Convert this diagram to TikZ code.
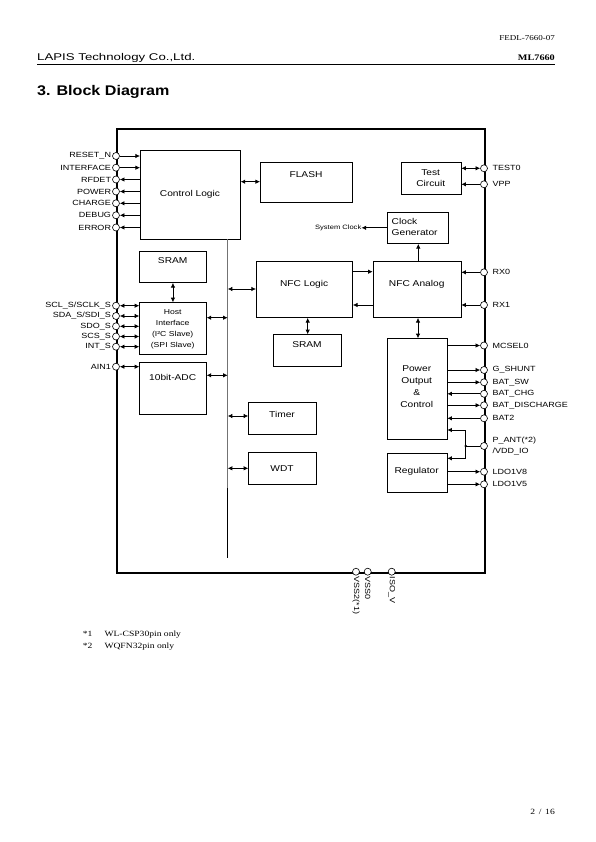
\documentclass[tikz,border=0pt]{standalone}
\usepackage{fontspec}
\usetikzlibrary{arrows.meta}
\newfontfamily\sfx[FakeStretch=1.2]{Liberation Sans}
\newfontfamily\rmx[FakeStretch=1.2]{Liberation Serif}
\newfontfamily\logofam[FakeStretch=1.35]{Liberation Sans}
\newfontfamily\headfam[FakeStretch=1.15]{Liberation Sans}
\newcommand\pinfont{\sfx\fontsize{7.5}{9}\selectfont}
\newcommand\blkfont{\sfx\fontsize{8.5}{11.6}\selectfont}
\newcommand\hostfont{\sfx\fontsize{7.2}{10.9}\selectfont}
\newcommand\tinyfont{\sfx\fontsize{6.3}{8}\selectfont}
\newcommand\mkblock[5]{\node[box, minimum width={#4-#2}, minimum height={#5-#3}] (#1) at (#2,#3) {};}
\tikzset{
  box/.style={draw, line width=0.6pt, anchor=north west, inner sep=0pt},
  pinc/.style={circle, draw, fill=white, line width=0.6pt, minimum size=7pt, inner sep=0pt},
  conn/.style={line width=0.7pt},
  arr/.style={conn, -{Latex[length=4.6pt,width=4.4pt]}},
  dbl/.style={conn, {Latex[length=4.6pt,width=4.4pt]}-{Latex[length=4.6pt,width=4.4pt]}},
  pinL/.style={font=\pinfont, inner sep=1pt, anchor=east},
  pinR/.style={font=\pinfont, inner sep=1pt, anchor=west, xshift=3.5pt},
  pinB/.style={font=\pinfont, inner sep=1pt, anchor=west, rotate=-90},
  btext/.style={font=\blkfont, inner sep=0pt, align=center},
}
\begin{document}
\begin{tikzpicture}[x=1pt, y=-1pt]
\useasboundingbox (0,0) rectangle (595,842);
\fill[white] (0,0) rectangle (595,842);

% ---------- page header ----------
\node[anchor=base east, inner sep=0pt, font=\rmx\fontsize{7.5}{9}\selectfont] (docno) at (555,41) {FEDL-7660-07};
\node[anchor=base west, inner sep=0pt, font=\logofam\fontsize{9.8}{11}\selectfont] (company) at (37,61) {LAPIS Technology Co.,Ltd.};
\node[anchor=base east, inner sep=0pt, font=\rmx\bfseries\fontsize{8.5}{10}\selectfont] (partno) at (555,61) {ML7660};
\draw[line width=0.8pt] (37,64.5) -- (555,64.5);
\node[anchor=base west, inner sep=0pt, font=\headfam\bfseries\fontsize{14}{16}\selectfont] (title) at (37,95.5) {3. Block Diagram};

% ---------- chip outline ----------
\node[draw, line width=1.8pt, minimum width=368, minimum height=443.7, anchor=north west, inner sep=0pt] (chip) at (116,128) {};

% ---------- blocks ----------
\mkblock{ctrl}{140}{150}{240}{239}
\mkblock{flash}{260}{162}{352}{202}
\mkblock{test}{400.7}{161.7}{460.7}{194}
\mkblock{clk}{387.3}{212.3}{447.7}{243.3}
\mkblock{sramA}{139.3}{250.7}{206}{282.3}
\mkblock{host}{139.3}{302.3}{206}{354}
\mkblock{adc}{139.3}{362.3}{206}{414}
\mkblock{nfcl}{256}{261}{352.3}{317.3}
\mkblock{nfca}{372.7}{261}{460.7}{317.3}
\mkblock{sramB}{273.3}{334.3}{340.7}{366}
\mkblock{power}{386.7}{338.3}{446.7}{439}
\mkblock{reg}{386.7}{452.7}{446.7}{492.3}
\mkblock{timer}{248.3}{402.3}{315.7}{434.3}
\mkblock{wdt}{248.3}{452.3}{315.7}{484.3}

% ---------- block texts ----------
\node[btext] (t-ctrl) at (190,194) {Control Logic};
\node[btext] (t-flash) at (306,175) {FLASH};
\node[btext] (t-test) at (430.7,178.3) {Test\\Circuit};
\node[btext, align=left, anchor=west] (t-clk) at (391.5,227) {Clock\\Generator};
\node[btext] (t-sramA) at (172.7,260.7) {SRAM};
\node[btext, font=\hostfont] (t-host) at (172.7,329) {Host\\Interface\\(I²C Slave)\\(SPI Slave)};
\node[btext] (t-adc) at (172.7,377) {10bit-ADC};
\node[btext] (t-nfcl) at (304.2,284) {NFC Logic};
\node[btext] (t-nfca) at (416.7,284) {NFC Analog};
\node[btext] (t-sramB) at (307,345) {SRAM};
\node[btext, font=\sfx\fontsize{8.5}{12}\selectfont] (t-power) at (416.7,386.5) {Power\\Output\\\&\\Control};
\node[btext] (t-reg) at (416.7,471.7) {Regulator};
\node[btext] (t-timer) at (282,414.3) {Timer};
\node[btext] (t-wdt) at (282,468.3) {WDT};
\node[font=\tinyfont, inner sep=0pt, anchor=east] (sysclk) at (361.5,227.8) {System Clock};

% ---------- internal bus ----------
\coordinate (bus-top) at (227.7,239);
\coordinate (bus-mid) at (227.7,488);
\coordinate (bus-bot) at (227.7,558);
\draw[line width=1pt, black!55] (bus-top) -- (bus-mid);
\draw[line width=0.5pt] (bus-mid) -- (bus-bot);
\coordinate (tap-nfcl) at (227.7,289);
\coordinate (tap-host) at (227.7,317.7);
\coordinate (tap-adc) at (227.7,375.3);
\coordinate (tap-timer) at (227.7,416);
\coordinate (tap-wdt) at (227.7,468.3);
\draw[dbl] (tap-nfcl) -- (nfcl.west |- tap-nfcl);
\draw[dbl] (host.east |- tap-host) -- (tap-host);
\draw[dbl] (adc.east |- tap-adc) -- (tap-adc);
\draw[dbl] (tap-timer) -- (timer.west |- tap-timer);
\draw[dbl] (tap-wdt) -- (wdt.west |- tap-wdt);

% ---------- block-to-block connectors ----------
\coordinate (cf) at (250,181.7);
\draw[dbl] (ctrl.east |- cf) -- (flash.west |- cf);
\draw[dbl] (sramA.south) -- (host.north);
\coordinate (nn1) at (362,271.7);
\coordinate (nn2) at (362,305);
\draw[arr] (nfcl.east |- nn1) -- (nfca.west |- nn1);
\draw[arr] (nfca.west |- nn2) -- (nfcl.east |- nn2);
\coordinate (ns) at (307.7,325);
\draw[dbl] (nfcl.south -| ns) -- (sramB.north -| ns);
\coordinate (np) at (418,327);
\draw[dbl] (nfca.south -| np) -- (power.north -| np);
\coordinate (nc) at (418.3,252);
\draw[arr] (nfca.north -| nc) -- (clk.south -| nc);
\draw[arr] (clk.west |- sysclk) -- (sysclk.east);

% ---------- left pins (Control Logic) ----------
\node[pinc] (p-reset) at (116,156) {};
\node[pinc] (p-iface) at (116,167.7) {};
\node[pinc] (p-rfdet) at (116,179.5) {};
\node[pinc] (p-power) at (116,191.5) {};
\node[pinc] (p-charge) at (116,203.3) {};
\node[pinc] (p-debug) at (116,215.3) {};
\node[pinc] (p-error) at (116,227.5) {};
\node[pinL] (l-reset) at (p-reset.west) {RESET\_N};
\node[pinL] (l-iface) at (p-iface.west) {INTERFACE};
\node[pinL] (l-rfdet) at (p-rfdet.west) {RFDET};
\node[pinL] (l-power) at (p-power.west) {POWER};
\node[pinL] (l-charge) at (p-charge.west) {CHARGE};
\node[pinL] (l-debug) at (p-debug.west) {DEBUG};
\node[pinL] (l-error) at (p-error.west) {ERROR};
\draw[arr] (p-reset) -- (p-reset -| ctrl.west);
\draw[arr] (p-iface) -- (p-iface -| ctrl.west);
\draw[arr] (p-rfdet -| ctrl.west) -- (p-rfdet);
\draw[arr] (p-power -| ctrl.west) -- (p-power);
\draw[arr] (p-charge -| ctrl.west) -- (p-charge);
\draw[arr] (p-debug -| ctrl.west) -- (p-debug);
\draw[arr] (p-error -| ctrl.west) -- (p-error);

% ---------- left pins (Host / ADC) ----------
\node[pinc] (p-scl) at (116,305.7) {};
\node[pinc] (p-sda) at (116,316) {};
\node[pinc] (p-sdo) at (116,326.3) {};
\node[pinc] (p-scs) at (116,336.5) {};
\node[pinc] (p-int) at (116,346.7) {};
\node[pinc] (p-ain) at (116,366.7) {};
\node[pinL] (l-scl) at (p-scl.west) {SCL\_S/SCLK\_S};
\node[pinL] (l-sda) at (p-sda.west) {SDA\_S/SDI\_S};
\node[pinL] (l-sdo) at (p-sdo.west) {SDO\_S};
\node[pinL] (l-scs) at (p-scs.west) {SCS\_S};
\node[pinL] (l-int) at (p-int.west) {INT\_S};
\node[pinL] (l-ain) at (p-ain.west) {AIN1};
\draw[dbl] (p-scl) -- (p-scl -| host.west);
\draw[dbl] (p-sda) -- (p-sda -| host.west);
\draw[dbl] (p-sdo) -- (p-sdo -| host.west);
\draw[dbl] (p-scs) -- (p-scs -| host.west);
\draw[dbl] (p-int) -- (p-int -| host.west);
\draw[dbl] (p-ain) -- (p-ain -| adc.west);

% ---------- right pins ----------
\node[pinc] (p-test0) at (484,168.3) {};
\node[pinc] (p-vpp) at (484,184.3) {};
\node[pinc] (p-rx0) at (484,272.3) {};
\node[pinc] (p-rx1) at (484,305) {};
\node[pinc] (p-mcsel) at (484,345.5) {};
\node[pinc] (p-gshunt) at (484,370) {};
\node[pinc] (p-batsw) at (484,382.3) {};
\node[pinc] (p-batchg) at (484,393.8) {};
\node[pinc] (p-batdis) at (484,405.3) {};
\node[pinc] (p-bat2) at (484,418.3) {};
\node[pinc] (p-pant) at (484,446) {};
\node[pinc] (p-ldo18) at (484,471.7) {};
\node[pinc] (p-ldo15) at (484,484.3) {};
\node[pinR] (l-test0) at (p-test0.east) {TEST0};
\node[pinR] (l-vpp) at (p-vpp.east) {VPP};
\node[pinR] (l-rx0) at (p-rx0.east) {RX0};
\node[pinR] (l-rx1) at (p-rx1.east) {RX1};
\node[pinR] (l-mcsel) at (p-mcsel.east) {MCSEL0};
\node[pinR] (l-gshunt) at (p-gshunt.east) {G\_SHUNT};
\node[pinR] (l-batsw) at (p-batsw.east) {BAT\_SW};
\node[pinR] (l-batchg) at (p-batchg.east) {BAT\_CHG};
\node[pinR] (l-batdis) at (p-batdis.east) {BAT\_DISCHARGE};
\node[pinR] (l-bat2) at (p-bat2.east) {BAT2};
\node[pinR, align=left, font=\sfx\fontsize{7.5}{11}\selectfont] (l-pant) at (p-pant.east) {P\_ANT(*2)\\/VDD\_IO};
\node[pinR] (l-ldo18) at (p-ldo18.east) {LDO1V8};
\node[pinR] (l-ldo15) at (p-ldo15.east) {LDO1V5};
\draw[dbl] (test.east |- p-test0) -- (p-test0);
\draw[arr] (p-vpp) -- (p-vpp -| test.east);
\draw[arr] (p-rx0) -- (p-rx0 -| nfca.east);
\draw[arr] (p-rx1) -- (p-rx1 -| nfca.east);
\draw[arr] (p-mcsel -| power.east) -- (p-mcsel);
\draw[arr] (p-gshunt -| power.east) -- (p-gshunt);
\draw[arr] (p-batsw -| power.east) -- (p-batsw);
\draw[arr] (p-batchg) -- (p-batchg -| power.east);
\draw[arr] (p-batdis -| power.east) -- (p-batdis);
\draw[arr] (p-bat2) -- (p-bat2 -| power.east);
\draw[arr] (p-ldo18 -| reg.east) -- (p-ldo18);
\draw[arr] (p-ldo15 -| reg.east) -- (p-ldo15);
\coordinate (jn) at (465.7,446);
\coordinate (pa1) at (465.7,430);
\coordinate (pa2) at (465.7,458.3);
\draw[conn] (p-pant) -- (jn);
\draw[arr] (jn) -- (pa1) -- (power.east |- pa1);
\draw[arr] (jn) -- (pa2) -- (reg.east |- pa2);
\fill (jn) circle (1.4);

% ---------- bottom pins ----------
\node[pinc] (p-vss2) at (356,571.7) {};
\node[pinc] (p-vss0) at (367.7,571.7) {};
\node[pinc] (p-iso) at (391.7,571.7) {};
\node[pinB] (l-vss2) at (p-vss2.south) {VSS2(*1)};
\node[pinB] (l-vss0) at (p-vss0.south) {VSS0};
\node[pinB] (l-iso) at (p-iso.south) {ISO\_V};

% ---------- footnotes and page number ----------
\node[anchor=base west, inner sep=0pt, font=\rmx\fontsize{8}{10}\selectfont] (fn1a) at (82.7,636) {*1};
\node[anchor=base west, inner sep=0pt, font=\rmx\fontsize{8}{10}\selectfont] (fn1b) at (104.3,636) {WL-CSP30pin only};
\node[anchor=base west, inner sep=0pt, font=\rmx\fontsize{8}{10}\selectfont] (fn2a) at (82.7,648) {*2};
\node[anchor=base west, inner sep=0pt, font=\rmx\fontsize{8}{10}\selectfont] (fn2b) at (104.3,648) {WQFN32pin only};
\node[anchor=base east, inner sep=0pt, font=\rmx\fontsize{8}{10}\selectfont] (pageno) at (555,814.5) {2\ \,/\ \,16};
\end{tikzpicture}
\end{document}
